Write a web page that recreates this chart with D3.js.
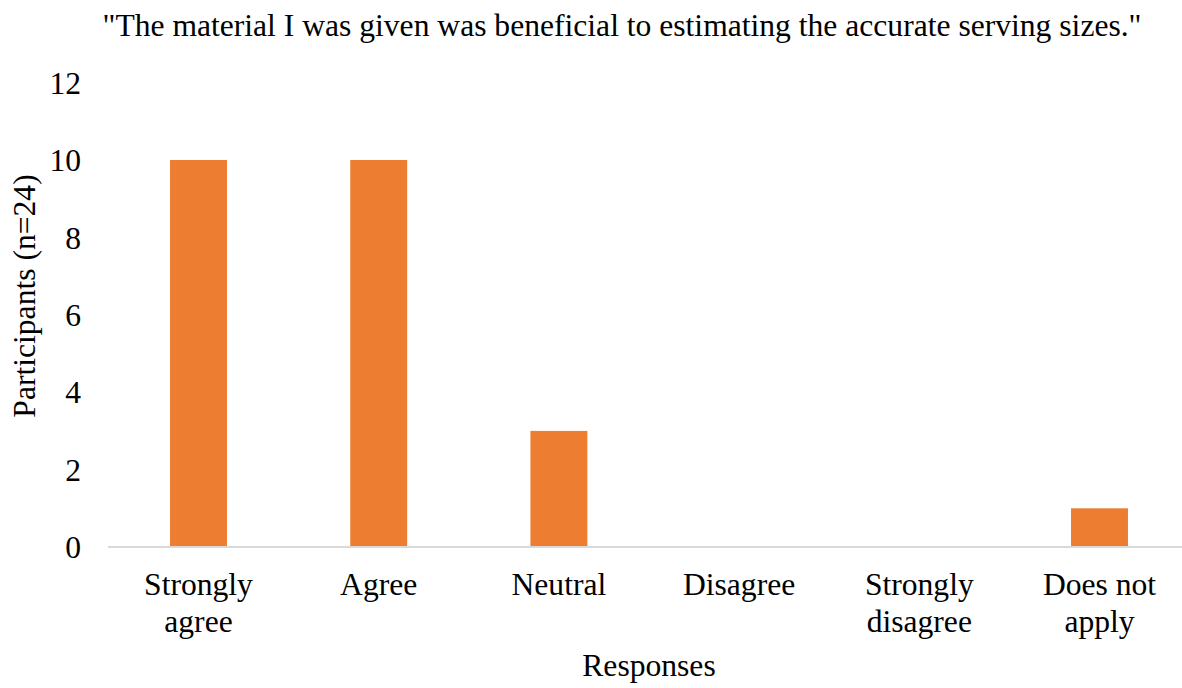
<!DOCTYPE html>
<html>
<head>
<meta charset="utf-8">
<script src="https://cdn.jsdelivr.net/npm/d3@7"></script>
<style>
  html, body { margin: 0; padding: 0; background: #fff; }
  svg { display: block; }
</style>
</head>
<body>
<svg id="chart" width="1182" height="688"></svg>
<script>
// Survey responses
const categories = [["Strongly", "agree"], ["Agree"], ["Neutral"], ["Disagree"], ["Strongly", "disagree"], ["Does not", "apply"]];
const participants = [10, 10, 3, 0, 0, 1];
const yTicks = [0, 2, 4, 6, 8, 10, 12];
const title = "\"The material I was given was beneficial to estimating the accurate serving sizes.\"";
const xTitle = "Responses";
const yTitle = "Participants (n=24)";

const FONT = "'Liberation Serif'";
const fontSize = 31.6;

const svg = d3.select("#chart");

const keys = categories.map(c => c.join(" "));
const x = d3.scaleBand().domain(keys).range([108.4, 1189.6]).paddingInner(0.684).paddingOuter(0.342);
const y = d3.scaleLinear().domain([0, 12]).range([547, 82.6]);

function styleText(sel) {
  return sel.style("font-family", FONT)
    .style("font-size", fontSize + "px")
    .style("fill", "#000");
}

// Bars
svg.append("g").selectAll("rect")
  .data(participants)
  .join("rect")
  .attr("x", (d, i) => x(keys[i]))
  .attr("width", x.bandwidth())
  .attr("y", d => y(d))
  .attr("height", d => y(0) - y(d))
  .attr("fill", "#ED7D31");

// Baseline
svg.append("line")
  .attr("x1", 108).attr("x2", 1190)
  .attr("y1", y(0)).attr("y2", y(0))
  .attr("stroke", "#d9d9d9").attr("stroke-width", 2);

// Y axis labels
const yAxis = d3.axisLeft(y).tickValues(yTicks).tickSize(0).tickPadding(0);
const gy = svg.append("g").attr("transform", "translate(81,0)").call(yAxis);
gy.select(".domain").remove();
styleText(gy.selectAll("text")).attr("dy", "0.34em");

// X axis category labels (wrapped)
const gx = svg.append("g");
categories.forEach((lines, i) => {
  const cx = x(keys[i]) + x.bandwidth() / 2;
  const t = styleText(gx.append("text"))
    .attr("x", cx)
    .attr("y", 595)
    .attr("text-anchor", "middle");
  lines.forEach((ln, j) => {
    t.append("tspan")
      .attr("x", cx)
      .attr("dy", j === 0 ? 0 : 37)
      .text(ln);
  });
});

// Titles
styleText(svg.append("text"))
  .attr("x", 622).attr("y", 36)
  .attr("text-anchor", "middle")
  .text(title);

styleText(svg.append("text"))
  .attr("x", 649).attr("y", 676)
  .attr("text-anchor", "middle")
  .text(xTitle);

styleText(svg.append("text"))
  .attr("transform", "translate(35,296) rotate(-90)")
  .attr("text-anchor", "middle")
  .text(yTitle);
</script>
</body>
</html>
